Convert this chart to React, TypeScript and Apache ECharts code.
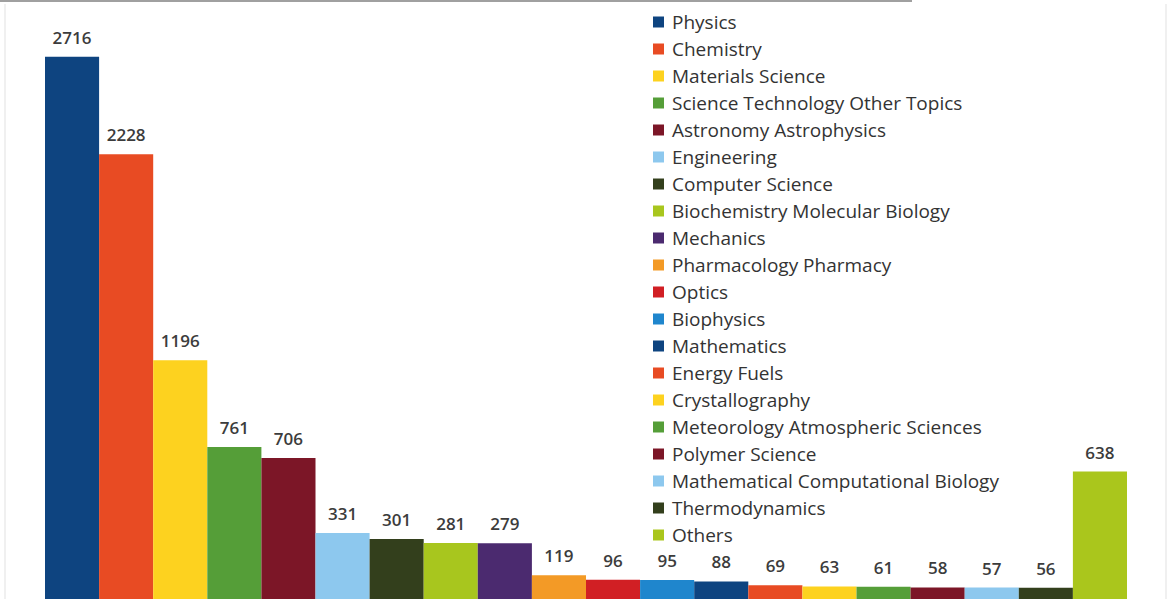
import React, { useEffect, useRef } from "react";
import * as echarts from "echarts";

const categories = [
  "Physics",
  "Chemistry",
  "Materials Science",
  "Science Technology Other Topics",
  "Astronomy Astrophysics",
  "Engineering",
  "Computer Science",
  "Biochemistry Molecular Biology",
  "Mechanics",
  "Pharmacology Pharmacy",
  "Optics",
  "Biophysics",
  "Mathematics",
  "Energy Fuels",
  "Crystallography",
  "Meteorology Atmospheric Sciences",
  "Polymer Science",
  "Mathematical Computational Biology",
  "Thermodynamics",
  "Others",
];

const values = [2716, 2228, 1196, 761, 706, 331, 301, 281, 279, 119, 96, 95, 88, 69, 63, 61, 58, 57, 56, 638];

const colors = [
  "#0E4480",
  "#E84B23",
  "#FDD21F",
  "#559E38",
  "#7C1627",
  "#8DC8EE",
  "#333F1C",
  "#A8C61E",
  "#4B2A6F",
  "#F39A26",
  "#D11F24",
  "#1F86CD",
  "#0E4480",
  "#E84B23",
  "#FDD21F",
  "#559E38",
  "#7C1627",
  "#8DC8EE",
  "#333F1C",
  "#AAC61C",
];

const FONT = "'Open Sans', Lato, sans-serif";

export default function App() {
  const ref = useRef<HTMLDivElement>(null);
  useEffect(() => {
    if (!ref.current) return;
    const chart = echarts.init(ref.current, null, { renderer: "svg" });
    const series = categories.map((name, i) => ({
      name,
      type: "bar",
      stack: "all",
      barCategoryGap: 0,
      itemStyle: { color: colors[i] },
      label: {
        show: true,
        position: "top",
        distance: 11,
        color: "#3c3c3c",
        fontSize: 17,
        fontWeight: 600,
        fontFamily: FONT,
        formatter: (p: any) => (p.value == null ? "" : String(p.value)),
      },
      data: categories.map((_, j) => (j === i ? values[i] : null)),
    }));
    chart.setOption({
      animation: false,
      backgroundColor: "#ffffff",
      grid: { left: 45, width: 1082, top: -1, height: 604, containLabel: false },
      xAxis: {
        type: "category",
        data: categories,
        show: false,
      },
      yAxis: {
        type: "value",
        min: 0,
        max: 3000,
        show: false,
        splitLine: { show: false },
      },
      legend: {
        orient: "vertical",
        left: 653,
        top: 12,
        itemWidth: 11,
        itemHeight: 11,
        itemGap: 7,
        icon: "rect",
        textStyle: {
          fontSize: 19,
          lineHeight: 20,
          fontFamily: FONT,
          color: "#333333",
          padding: [0, 0, 0, 3],
        },
        padding: 0,
        data: categories,
      },
      graphic: [
        {
          type: "line",
          shape: { x1: 0, y1: 1, x2: 912, y2: 1 },
          style: { stroke: "#a0a0a0", lineWidth: 2 },
        },
        {
          type: "line",
          shape: { x1: 5, y1: 4, x2: 5, y2: 599 },
          style: { stroke: "#f0f0f0", lineWidth: 2 },
        },
        {
          type: "line",
          shape: { x1: 1166, y1: 4, x2: 1166, y2: 599 },
          style: { stroke: "#f0f0f0", lineWidth: 2 },
        },
      ],
      series,
    });
    return () => chart.dispose();
  }, []);
  return (
    <div
      ref={ref}
      style={{ position: "absolute", left: 0, top: 0, width: 1173, height: 599 }}
    />
  );
}
